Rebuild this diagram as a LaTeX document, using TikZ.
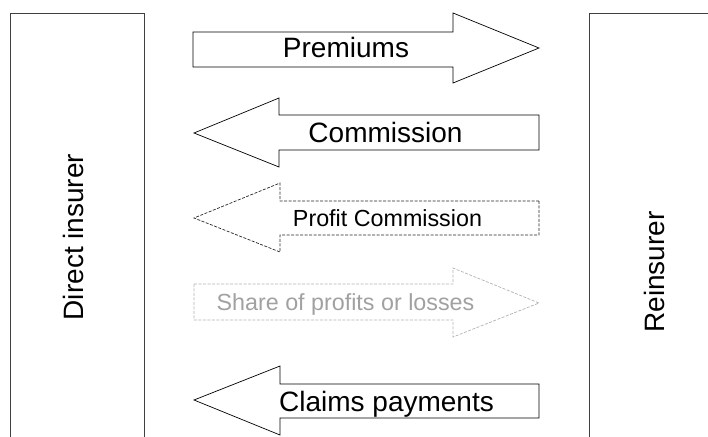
\documentclass[tikz,border=0pt]{standalone}
\usepackage{fontspec}
\setmainfont{Liberation Sans}
\begin{document}
\begin{tikzpicture}[x=1pt,y=-1pt,
  party/.style={draw=black!75,line width=0.9pt},
  flow/.style={draw=black,line width=0.7pt,fill=white},
  flowdash/.style={draw=black!85,line width=0.7pt,dash pattern=on 3pt off 1.5pt},
  flowgray/.style={draw=black!30,line width=0.7pt,dash pattern=on 3pt off 1.5pt},
  biglabel/.style={font=\fontsize{28}{31}\selectfont,inner sep=0pt,anchor=base},
  smalllabel/.style={font=\fontsize{23.3}{27}\selectfont,inner sep=0pt,anchor=base},
  sidelabel/.style={font=\fontsize{28}{31}\selectfont,inner sep=0pt,rotate=90}]
\useasboundingbox (0,0) rectangle (708,436);
% parties
\draw[party] (10,460) -- (10,13) -- (144,13) -- (144,460);
\draw[party] (589,460) -- (589,13) -- (730,13) -- (730,460);
\node[sidelabel] (direct) at (73,237) {Direct insurer};
\node[sidelabel] (reins) at (654,272) {Reinsurer};
% Premiums (to reinsurer)
\draw[flow] (193,32) -- (453,32) -- (453,13) -- (539,48) -- (453,83) -- (453,67) -- (193,67) -- cycle;
\node[biglabel] (prem) at (346,57.5) {Premiums};
% Commission (to direct insurer)
\draw[flow] (539,115) -- (279,115) -- (279,98) -- (194,133) -- (279,167) -- (279,150) -- (539,150) -- cycle;
\node[biglabel] (comm) at (385.5,142.5) {Commission};
% Profit Commission
\draw[flowdash] (539,201) -- (280,201) -- (280,183) -- (194,218) -- (280,252) -- (280,235) -- (539,235) -- cycle;
\node[smalllabel] (profit) at (387.5,226) {Profit Commission};
% Share of profits or losses
\draw[flowgray] (194,284) -- (453,284) -- (453,268) -- (539,303) -- (453,337) -- (453,320) -- (194,320) -- cycle;
\node[smalllabel,text=black!37] (share) at (345.5,310) {Share of profits or losses};
% Claims payments
\draw[flow] (539,384) -- (280,384) -- (280,366) -- (194,400) -- (280,435) -- (280,418) -- (539,418) -- cycle;
\node[biglabel] (claims) at (386.5,411) {Claims payments};
\end{tikzpicture}
\end{document}
